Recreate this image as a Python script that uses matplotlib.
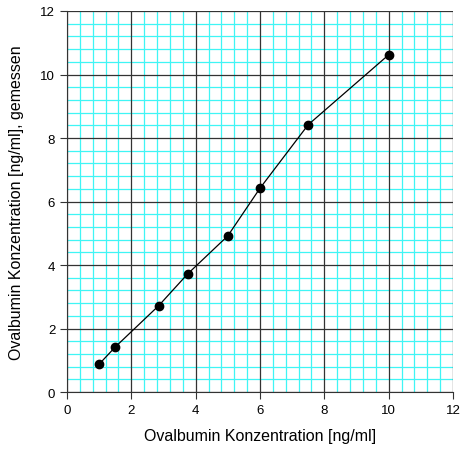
import matplotlib
matplotlib.use("Agg")
import matplotlib.pyplot as plt
import numpy as np
from matplotlib.ticker import FixedLocator

plt.rcParams['font.family'] = ['Liberation Sans', 'DejaVu Sans']

# Daten
x_soll = [1.0, 1.5, 2.85, 3.75, 5.0, 6.0, 7.5, 10.0]
y_gemessen = [0.88, 1.42, 2.72, 3.72, 4.92, 6.42, 8.42, 10.62]
ticks = [0, 2, 4, 6, 8, 10, 12]

fig = plt.figure(figsize=(4.7, 4.56), dpi=100)
ax = fig.add_axes([0.1426, 0.138, 0.8212, 0.8357])

ax.set_xlim(0, 12)
ax.set_ylim(0, 12)
ax.set_xticks(ticks)
ax.set_yticks(ticks)

# Nebengitter alle 0.4, ohne die Hauptlinien
minor = [v for v in np.arange(0, 12.01, 0.4) if abs(v / 2 - round(v / 2)) > 1e-6]
ax.xaxis.set_minor_locator(FixedLocator(minor))
ax.yaxis.set_minor_locator(FixedLocator(minor))
ax.grid(which='minor', color='#3ff5f5', linewidth=0.9, zorder=0)
ax.set_axisbelow(True)

# Hauptgitter ueber dem Nebengitter
for t in ticks:
    ax.axvline(t, color='#333333', linewidth=0.9, zorder=1)
    ax.axhline(t, color='#333333', linewidth=0.9, zorder=1)

for s in ['top', 'right']:
    ax.spines[s].set_visible(False)
for s in ['left', 'bottom']:
    ax.spines[s].set_color('#333333')

ax.tick_params(which='minor', length=0)
ax.tick_params(which='major', direction='out', length=5, labelsize=9.5, color='#333333')

ax.plot(x_soll, y_gemessen, color='black', linewidth=0.9, marker='o',
        markersize=6, zorder=3)

ax.set_xlabel('Ovalbumin Konzentration [ng/ml]', fontsize=11.5, labelpad=9)
ax.set_ylabel('Ovalbumin Konzentration [ng/ml], gemessen', fontsize=11.5, labelpad=12)

fig.savefig('out.png', dpi=100, facecolor='white')
